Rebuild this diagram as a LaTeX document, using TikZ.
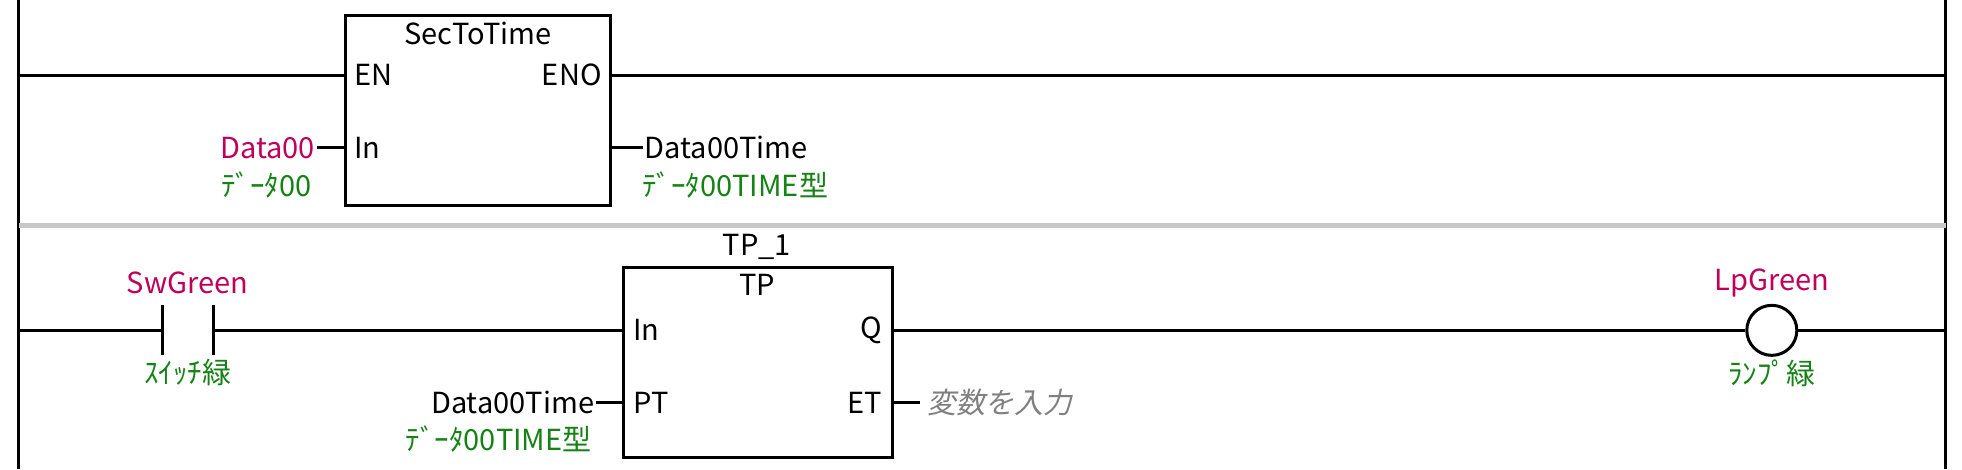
\documentclass[tikz,border=0pt]{standalone}
\usepackage{fontspec}
\setmainfont{Noto Sans CJK JP}
\newfontfamily\slfont[FakeSlant=0.2]{Noto Sans CJK JP}
\definecolor{mag}{RGB}{190,0,90}
\definecolor{grn}{RGB}{20,130,20}
\definecolor{sep}{RGB}{200,200,200}
\begin{document}
\begin{tikzpicture}[x=1.25pt,y=-1.25pt,line width=3pt,
  every node/.style={inner sep=0pt,font=\fontsize{29}{32}\selectfont},
  var/.style={text=mag},
  cmt/.style={text=grn,font=\fontsize{29}{32}\selectfont}]
\useasboundingbox (0,0) rectangle (1568,375);
% rails
\draw (15,0) -- (15,375);
\draw (1555,0) -- (1555,375);
\draw[sep,line width=5pt] (15,180) -- (1555,180);
% rung 1
\draw (276,12) rectangle (488,164);
\node[anchor=north] (t1) at (382,16) {SecToTime};
\node[anchor=west] (en) at (282,60) {EN};
\node[anchor=east] (eno) at (482,60) {ENO};
\node[anchor=west] (in1) at (282,118) {In};
\coordinate (l1) at (15,60);
\coordinate (r1) at (1555,60);
\draw (l1) -- (276,60);
\draw (488,60) -- (r1);
\node[var,anchor=east] (d0) at (253,118) {Data00};
\draw (d0.east) -- (276,118);
\node[cmt,anchor=north east] (d0c) at (250,136) {ﾃﾞｰﾀ00};
\node[anchor=west] (d0t) at (514,118) {Data00Time};
\draw (488,118) -- (d0t.west);
\node[cmt,anchor=north west] (d0tc) at (512,136) {ﾃﾞｰﾀ00TIME型};
% rung 2
\coordinate (l2) at (15,264);
\coordinate (r2) at (1555,264);
\coordinate (c1) at (130,264);
\coordinate (c2) at (171,264);
\draw (l2) -- (c1);
\draw (130,244) -- (130,284);
\draw (171,244) -- (171,284);
\node[var] (sw) at (150,226) {SwGreen};
\node[cmt] (swc) at (150,298) {ｽｲｯﾁ緑};
\draw (498,214) rectangle (713,366);
\draw (c2) -- (498,264);
\node (tp1) at (605,197) {TP\_1};
\node[anchor=north] (tp) at (605,218) {TP};
\node[anchor=west] (in2) at (505,264) {In};
\node[anchor=east] (q) at (706,264) {Q};
\node[anchor=west] (pt) at (505,322) {PT};
\node[anchor=east] (et) at (706,322) {ET};
\node[anchor=east] (dt2) at (476,322) {Data00Time};
\draw (dt2.east) -- (498,322);
\node[cmt,anchor=north east] (dt2c) at (474,339) {ﾃﾞｰﾀ00TIME型};
\draw (713,322) -- (735,322);
\node[anchor=west,text=gray,font=\fontsize{29}{32}\selectfont\slfont] (etv) at (740,322) {変数を入力};
\node[draw,circle,minimum size=50pt,line width=3pt] (coil) at (1416,264) {};
\draw (713,264) -- (coil.west);
\draw (coil.east) -- (r2);
\node[var] (lp) at (1416,226) {LpGreen};
\node[cmt] (lpc) at (1416,298) {ﾗﾝﾌﾟ緑};
\end{tikzpicture}
\end{document}
